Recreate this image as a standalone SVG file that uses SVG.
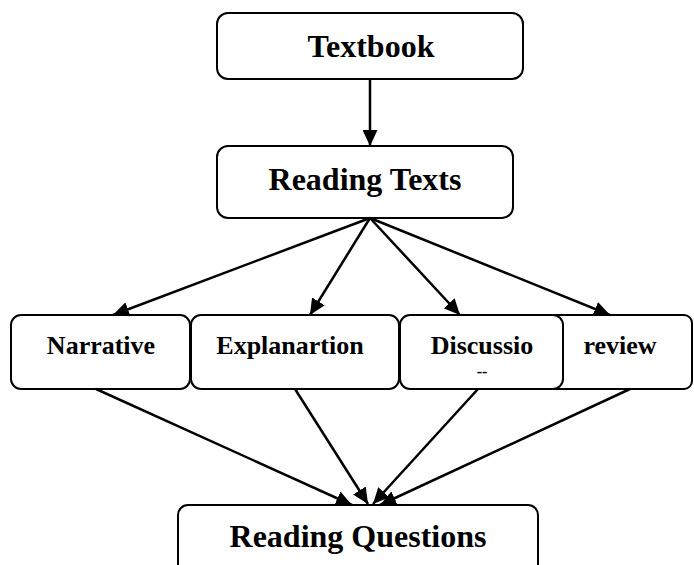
<svg xmlns="http://www.w3.org/2000/svg" width="694" height="565" viewBox="0 0 694 565">
<style>
.box{fill:#fff;stroke:#000;stroke-width:2}
.t{font-family:"Liberation Serif","Times New Roman",serif;font-weight:bold;fill:#000;text-anchor:middle}
.big{font-size:32px}
.mid{font-size:26px}
.edge{stroke:#000;stroke-width:2.5;fill:none;marker-end:url(#ah)}
</style>
<defs>
<marker id="ah" markerUnits="userSpaceOnUse" markerWidth="17" markerHeight="15" refX="16" refY="7.5" orient="auto">
<path d="M0,0 L16,7.5 L0,15 z" fill="#000"/>
</marker>
</defs>
<g id="textbook">
<rect class="box" x="217" y="13" width="306" height="66" rx="11"/>
<text class="t big" x="371" y="57">Textbook</text>
</g>
<g id="reading-texts">
<rect class="box" x="217" y="146" width="296" height="72" rx="11"/>
<text class="t big" x="365" y="190">Reading Texts</text>
</g>
<g id="narrative">
<rect class="box" x="11" y="315" width="179" height="74" rx="10"/>
<text class="t mid" x="101" y="354">Narrative</text>
</g>
<g id="explanartion">
<rect class="box" x="191" y="315" width="208" height="74" rx="10"/>
<text class="t mid" x="290" y="354">Explanartion</text>
</g>
<g id="review">
<rect class="box" x="530" y="315" width="162" height="74" rx="8"/>
<text class="t mid" x="620" y="354">review</text>
</g>
<g id="discussion">
<rect class="box" x="400" y="315" width="163" height="74" rx="10"/>
<text class="t mid" x="482" y="354">Discussio</text>
<text class="t" style="font-size:16px" x="482" y="377">--</text>
</g>
<g id="reading-questions">
<rect class="box" x="178" y="505" width="360" height="80" rx="10"/>
<text class="t big" x="358" y="547">Reading Questions</text>
</g>
<g id="connectors">
<line class="edge" x1="370" y1="80" x2="370" y2="146"/>
<line class="edge" x1="370" y1="218" x2="113" y2="315"/>
<line class="edge" x1="370" y1="218" x2="310" y2="315"/>
<line class="edge" x1="370" y1="218" x2="460" y2="315"/>
<line class="edge" x1="370" y1="218" x2="610" y2="315"/>
<line class="edge" x1="96" y1="389" x2="352" y2="505"/>
<line class="edge" x1="295" y1="389" x2="368" y2="504"/>
<line class="edge" x1="478" y1="389" x2="373" y2="504"/>
<line class="edge" x1="630" y1="389" x2="380" y2="505"/>
</g>
</svg>
